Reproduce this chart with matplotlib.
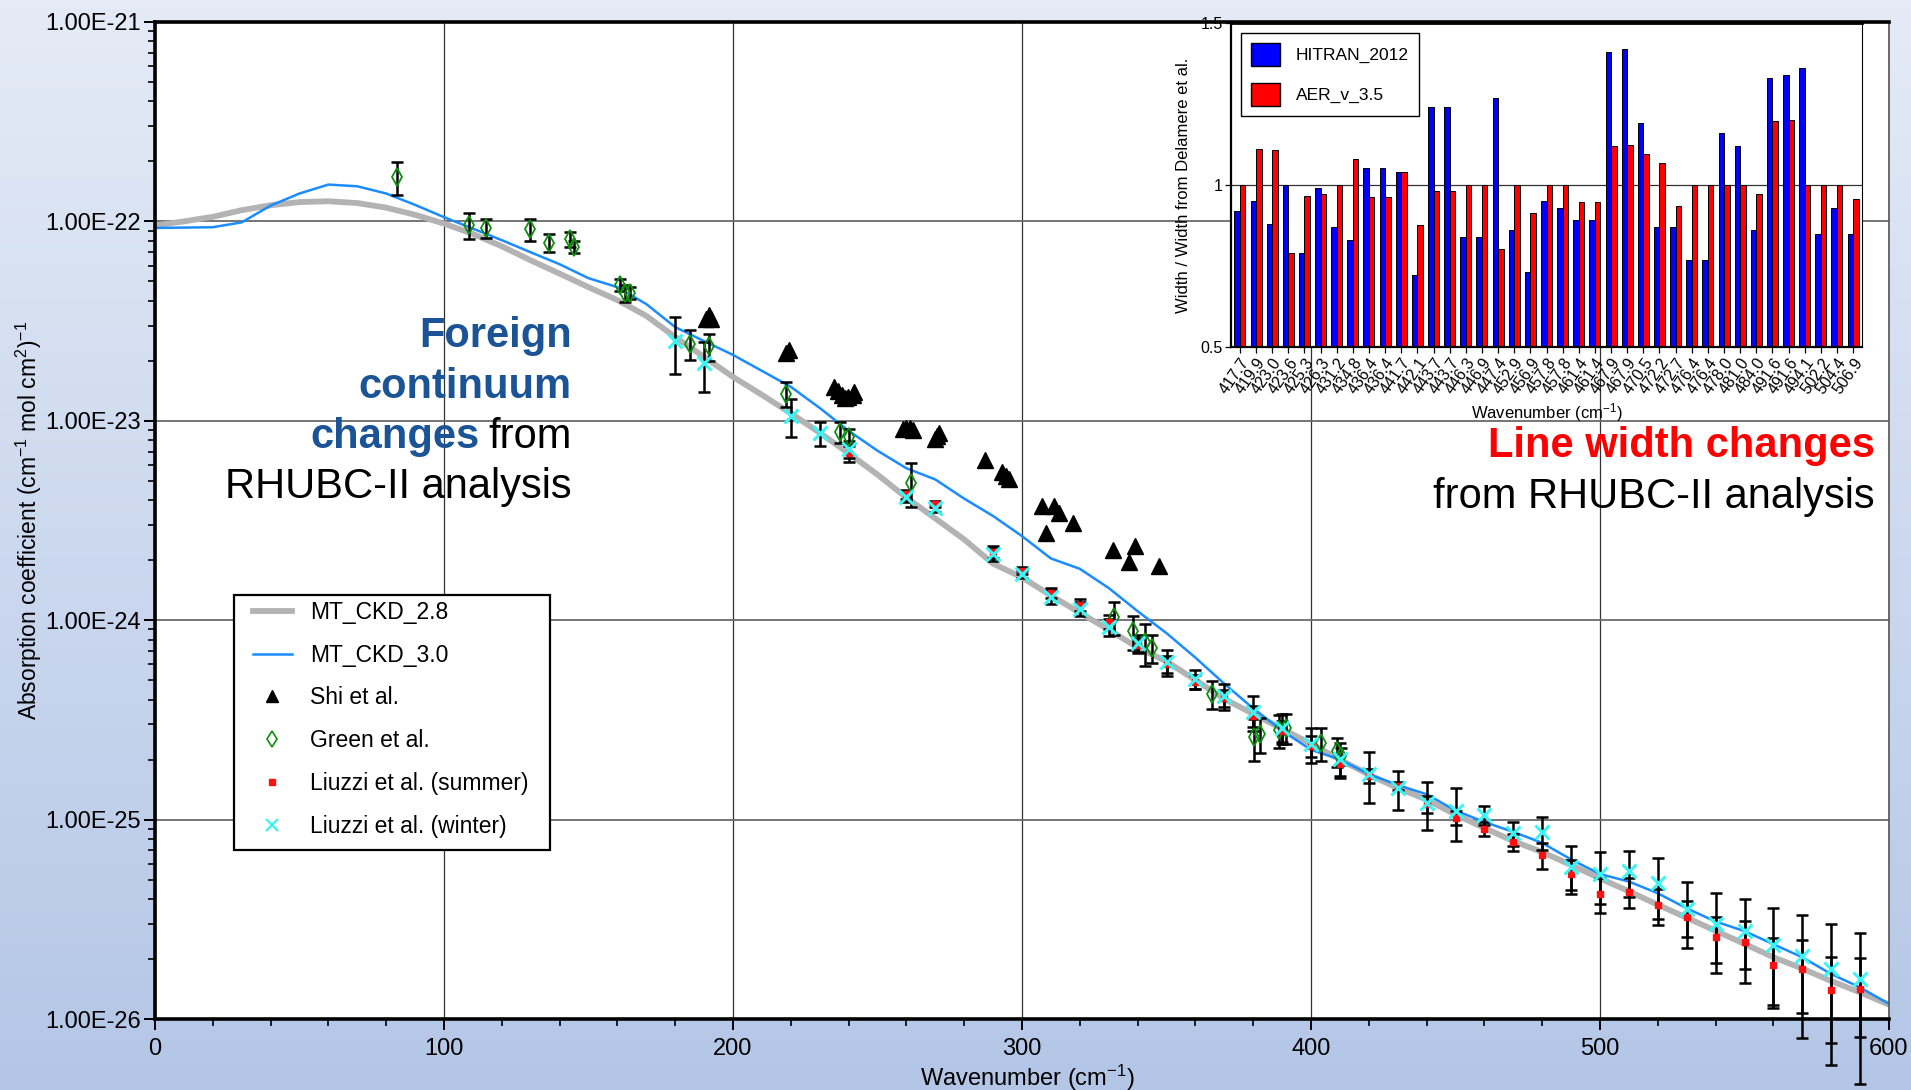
import numpy as np
import matplotlib
matplotlib.use("Agg")
import matplotlib.pyplot as plt
from matplotlib.lines import Line2D
from matplotlib.patches import Patch, Rectangle
from matplotlib.ticker import FixedLocator, FuncFormatter, LogLocator, NullFormatter, MultipleLocator

plt.rcParams['font.family'] = ['Liberation Sans', 'DejaVu Sans']
plt.rcParams['mathtext.default'] = 'regular'

# model continuum, every 10 cm-1 from 0 to 600
wn_model = np.arange(0, 601, 10)
mt_ckd_28 = [9.55e-23, 1.00e-22, 1.054e-22, 1.138e-22, 1.205e-22, 1.250e-22, 1.262e-22, 1.236e-22,
             1.172e-22, 1.079e-22, 9.75e-23, 8.65e-23, 7.50e-23, 6.38e-23, 5.47e-23, 4.68e-23,
             4.03e-23, 3.36e-23, 2.63e-23, 2.09e-23, 1.66e-23, 1.35e-23, 1.09e-23, 8.71e-24,
             6.87e-24, 5.37e-24, 4.12e-24, 3.24e-24, 2.54e-24, 1.92e-24, 1.64e-24, 1.33e-24,
             1.09e-24, 8.97e-25, 7.29e-25, 6.22e-25, 5.01e-25, 4.03e-25, 3.39e-25, 2.85e-25,
             2.40e-25, 2.00e-25, 1.68e-25, 1.44e-25, 1.26e-25, 1.06e-25, 9.08e-26, 7.80e-26,
             6.87e-26, 5.92e-26, 5.07e-26, 4.37e-26, 3.74e-26, 3.22e-26, 2.77e-26, 2.38e-26,
             2.04e-26, 1.79e-26, 1.55e-26, 1.36e-26, 1.18e-26]
mt_ckd_30 = [9.27e-23, 9.31e-23, 9.35e-23, 9.89e-23, 1.20e-22, 1.38e-22, 1.53e-22, 1.50e-22,
             1.38e-22, 1.21e-22, 1.05e-22, 9.20e-23, 8.05e-23, 7.00e-23, 6.10e-23, 5.19e-23,
             4.68e-23, 3.85e-23, 2.95e-23, 2.51e-23, 2.14e-23, 1.78e-23, 1.48e-23, 1.16e-23,
             8.91e-24, 7.08e-24, 5.78e-24, 5.08e-24, 4.07e-24, 3.33e-24, 2.64e-24, 2.04e-24,
             1.81e-24, 1.45e-24, 1.11e-24, 8.61e-25, 6.49e-25, 4.80e-25, 3.61e-25, 2.79e-25,
             2.24e-25, 2.00e-25, 1.69e-25, 1.49e-25, 1.34e-25, 1.11e-25, 9.73e-26, 8.67e-26,
             7.64e-26, 6.31e-26, 5.33e-26, 4.89e-26, 4.27e-26, 3.59e-26, 3.08e-26, 2.76e-26,
             2.37e-26, 2.04e-26, 1.68e-26, 1.44e-26, 1.19e-26]

# Shi et al.
shi_wn = [190.8, 191.6, 192.5, 218.5, 219.3, 234.8, 236.3, 237.6, 238.6, 239.8, 241.4, 242.0,
          258.8, 260.0, 261.3, 262.2, 269.8, 270.6, 271.2, 287.1, 293.0, 294.5, 295.5,
          306.9, 308.2, 310.9, 312.9, 317.5, 331.4, 337.1, 339.0, 347.3]
shi_k = [3.24e-23, 3.39e-23, 3.24e-23, 2.20e-23, 2.26e-23, 1.48e-23, 1.41e-23, 1.35e-23, 1.30e-23,
         1.32e-23, 1.35e-23, 1.40e-23, 9.12e-24, 9.23e-24, 9.23e-24, 9.02e-24, 8.07e-24, 8.41e-24,
         8.71e-24, 6.35e-24, 5.56e-24, 5.27e-24, 5.13e-24, 3.74e-24, 2.73e-24, 3.72e-24,
         3.44e-24, 3.08e-24, 2.26e-24, 1.95e-24, 2.36e-24, 1.87e-24]

# Green et al. (relative uncertainty)
green_wn = [83.8, 108.6, 114.6, 129.7, 136.4, 143.6, 145.1, 161.0, 162.8, 164.2, 185.2, 191.7,
            218.3, 237.1, 240.1, 261.5, 331.8, 338.3, 342.5, 344.9, 365.6, 380.3, 382.3,
            388.8, 391.2, 403.4, 409.0, 410.4]
green_k = [1.67e-22, 9.57e-23, 9.27e-23, 9.14e-23, 7.83e-23, 8.13e-23, 7.45e-23, 4.81e-23,
           4.37e-23, 4.37e-23, 2.44e-23, 2.36e-23, 1.37e-23, 8.79e-24, 8.26e-24, 4.90e-24,
           1.04e-24, 8.79e-25, 7.73e-25, 7.23e-25, 4.27e-25, 2.59e-25, 2.70e-25, 2.82e-25,
           2.88e-25, 2.42e-25, 2.20e-25, 2.08e-25]
green_rel = [0.19, 0.15, 0.11, 0.13, 0.10, 0.09, 0.07, 0.07, 0.10, 0.07, 0.17, 0.15, 0.14, 0.12,
             0.10, 0.25, 0.19, 0.19, 0.24, 0.16, 0.16, 0.24, 0.20, 0.19, 0.17, 0.19, 0.17, 0.10]

# Liuzzi et al. winter
winter_wn = [180, 190, 220, 230, 240, 260, 270, 290, 300, 310, 320, 330, 340, 350, 360, 370, 380,
             390, 400, 410, 420, 430, 440, 450, 460, 470, 480, 490, 500, 510, 520, 530, 540, 550,
             560, 570, 580, 590]
winter_k = [2.52e-23, 1.94e-23, 1.06e-23, 8.65e-24, 7.19e-24, 4.17e-24, 3.66e-24, 2.15e-24,
            1.70e-24, 1.31e-24, 1.14e-24, 9.27e-25, 7.66e-25, 6.17e-25, 5.07e-25, 4.17e-25,
            3.47e-25, 2.88e-25, 2.40e-25, 2.01e-25, 1.69e-25, 1.44e-25, 1.21e-25, 1.11e-25,
            1.06e-25, 8.55e-26, 8.65e-26, 5.78e-26, 5.31e-26, 5.50e-26, 4.79e-26, 3.56e-26,
            2.99e-26, 2.75e-26, 2.36e-26, 2.07e-26, 1.79e-26, 1.58e-26]
winter_rel = [0.32, 0.28, 0.22, 0.14, 0.10, 0.06, 0.05, 0.08, 0.04, 0.08, 0.08, 0.10, 0.10, 0.15,
              0.11, 0.15, 0.20, 0.17, 0.20, 0.20, 0.285, 0.22, 0.27, 0.30, 0.11, 0.14, 0.19,
              0.27, 0.29, 0.26, 0.34, 0.36, 0.43, 0.45, 0.52, 0.61, 0.67, 0.70]

# Liuzzi et al. summer
summer_wn = [240, 260, 270, 290, 300, 310, 320, 330, 340, 350, 360, 370, 380, 390, 400, 410, 420,
             430, 440, 450, 460, 470, 480, 490, 500, 510, 520, 530, 540, 550, 560, 570, 580, 590]
summer_k = [6.92e-24, 4.27e-24, 3.83e-24, 2.21e-24, 1.77e-24, 1.37e-24, 1.19e-24, 9.79e-25,
            7.50e-25, 6.03e-25, 4.90e-25, 4.07e-25, 3.32e-25, 2.79e-25, 2.34e-25, 1.89e-25,
            1.66e-25, 1.48e-25, 1.20e-25, 1.02e-25, 8.99e-26, 7.69e-26, 6.67e-26, 5.33e-26,
            4.24e-26, 4.35e-26, 3.72e-26, 3.24e-26, 2.58e-26, 2.43e-26, 1.87e-26, 1.78e-26,
            1.40e-26, 1.42e-26]
summer_rel = [0.10, 0.05, 0.04, 0.07, 0.04, 0.06, 0.07, 0.08, 0.09, 0.10, 0.08, 0.10, 0.12, 0.12,
              0.12, 0.12, 0.08, 0.045, 0.10, 0.08, 0.08, 0.10, 0.15, 0.17, 0.20, 0.17, 0.20,
              0.20, 0.26, 0.27, 0.37, 0.40, 0.46, 0.43]

# line width ratios for the inset
line_labels = ['417.7', '419.9', '423.0', '423.6', '425.3', '426.3', '431.2', '434.8', '436.4',
               '436.4', '441.7', '442.1', '443.7', '443.7', '446.3', '446.9', '447.4', '452.9',
               '456.9', '457.8', '457.8', '461.4', '461.4', '467.9', '467.9', '470.5', '472.2',
               '472.7', '476.4', '476.4', '478.0', '481.0', '484.0', '491.6', '491.6', '494.1',
               '502.2', '504.4', '506.9']
hitran_2012 = [0.921, 0.951, 0.880, 1.0, 0.789, 0.990, 0.871, 0.831, 1.051, 1.051, 1.041, 0.721,
               1.240, 1.240, 0.841, 0.841, 1.270, 0.861, 0.730, 0.951, 0.930, 0.891, 0.891,
               1.411, 1.421, 1.191, 0.871, 0.871, 0.770, 0.770, 1.160, 1.121, 0.861, 1.331,
               1.340, 1.361, 0.850, 0.930, 0.850]
aer_v35 = [1.0, 1.111, 1.108, 0.791, 0.967, 0.971, 1.0, 1.080, 0.962, 0.962, 1.039, 0.877, 0.980,
           0.980, 1.0, 1.0, 0.804, 1.0, 0.913, 1.0, 1.0, 0.946, 0.946, 1.119, 1.123, 1.095, 1.067,
           0.934, 1.0, 1.0, 1.0, 1.0, 0.971, 1.196, 1.202, 1.0, 1.0, 1.0, 0.958]

W, H = 1911, 1090
fig = plt.figure(figsize=(W / 100, H / 100), dpi=100)

# slide-style background
bg = fig.add_axes([0, 0, 1, 1], zorder=-5)
grad = np.linspace(0, 1, 256)[:, None]
top_c = np.array([0.898, 0.922, 0.965])
bot_c = np.array([0.705, 0.776, 0.905])
img = top_c[None, None, :] * (1 - grad[..., None]) + bot_c[None, None, :] * grad[..., None]
bg.imshow(np.repeat(img, 4, axis=1), aspect='auto', extent=[0, 1, 0, 1])
bg.axis('off')


def fx(px):
    return px / W


def fy(py):
    return 1 - py / H


ax = fig.add_axes([fx(155), fy(1019), fx(1889 - 155), (1019 - 22) / H])
ax.set_facecolor('white')
ax.set_yscale('log')
ax.set_xlim(0, 600)
ax.set_ylim(1e-26, 1e-21)
ax.xaxis.set_major_locator(MultipleLocator(100))
ax.xaxis.set_minor_locator(MultipleLocator(20))
ax.yaxis.set_major_locator(FixedLocator([1e-26, 1e-25, 1e-24, 1e-23, 1e-22, 1e-21]))
ax.yaxis.set_minor_locator(LogLocator(base=10, subs=np.arange(2, 10)))
ax.yaxis.set_minor_formatter(NullFormatter())
ax.yaxis.set_major_formatter(FuncFormatter(lambda v, p: f"{v:.2E}"))
ax.tick_params(which='major', direction='out', length=8, width=1.4, labelsize=17, pad=2)
ax.tick_params(which='minor', direction='out', length=5, width=1.2)
ax.tick_params(axis='x', which='major', pad=6)
ax.grid(True, which='major', axis='x', color='#333333', lw=0.9)
ax.grid(True, which='major', axis='y', color='#6a6a6a', lw=1.3)
ax.set_axisbelow(True)
for side in ['left', 'bottom', 'top']:
    ax.spines[side].set_linewidth(2.6)
ax.spines['right'].set_linewidth(1.2)
ax.spines['right'].set_color('#555555')

ax.set_xlabel('Wavenumber (cm$^{-1}$)', fontsize=17)
ax.xaxis.set_label_coords(0.503, -0.044)
ax.set_ylabel('Absorption coefficient (cm$^{-1}$ mol cm$^{2}$)$^{-1}$', fontsize=16.5)
ax.yaxis.set_label_coords(-0.064, 0.5)

ax.plot(wn_model, mt_ckd_28, color='#b3b3b3', lw=4.2, zorder=2, solid_capstyle='butt')
ax.plot(wn_model, mt_ckd_30, color='#1a8cff', lw=1.8, zorder=2.5)


def error_bars(wn, k, rel):
    k = np.asarray(k)
    eb = ax.errorbar(wn, k, yerr=np.asarray(rel) * k, fmt='none', ecolor='black',
                     elinewidth=1.8, capsize=4.5, capthick=1.8, zorder=3)
    for art in list(eb.lines[1]) + list(eb.lines[2]):
        art.set_clip_on(False)


error_bars(green_wn, green_k, green_rel)
error_bars(winter_wn, winter_k, winter_rel)
error_bars(summer_wn, summer_k, summer_rel)

ax.plot(shi_wn, shi_k, ls='none', marker='^', ms=11, color='black', zorder=4)
ax.plot(green_wn, green_k, ls='none', marker='d', ms=9, mfc='none', mec='#0f8f0f', mew=1.3, zorder=4)
ax.plot(summer_wn, summer_k, ls='none', marker='s', ms=4.5, color='#ff1010', zorder=4.2)
ax.plot(winter_wn, winter_k, ls='none', marker='x', ms=10, mew=2.2, color='#3cf4f4', zorder=4.4)

# legend: own frame, entries placed inside it
ax.add_patch(Rectangle((fx(234), fy(850)), fx(550 - 234), (850 - 595) / H,
                       transform=fig.transFigure, facecolor='white', edgecolor='black',
                       lw=1.6, zorder=5, clip_on=False))
handles = [
    Line2D([], [], color='#b3b3b3', lw=4.2),
    Line2D([], [], color='#1a8cff', lw=1.8),
    Line2D([], [], ls='none', marker='^', ms=8, color='black'),
    Line2D([], [], ls='none', marker='d', ms=8, mfc='none', mec='#0f8f0f', mew=1.2),
    Line2D([], [], ls='none', marker='s', ms=4, color='#ff1010'),
    Line2D([], [], ls='none', marker='x', ms=8, mew=1.6, color='#3cf4f4'),
]
labels = ['MT_CKD_2.8', 'MT_CKD_3.0', 'Shi et al.', 'Green et al.',
          'Liuzzi et al. (summer)', 'Liuzzi et al. (winter)']
leg = ax.legend(handles, labels, loc='upper left', bbox_to_anchor=(fx(253), fy(601)),
                bbox_transform=fig.transFigure, borderaxespad=0, borderpad=0,
                fontsize=16.5, frameon=False, handlelength=1.7, handletextpad=0.8,
                labelspacing=0.86)
leg.set_zorder(6)

# annotation blocks
blue_txt = '#1b5496'
big = 30
fig.text(fx(572), fy(347), 'Foreign', ha='right', va='baseline', fontsize=big,
         fontweight='bold', color=blue_txt)
fig.text(fx(572), fy(398), 'continuum', ha='right', va='baseline', fontsize=big,
         fontweight='bold', color=blue_txt)
t_from = fig.text(fx(572), fy(448), 'from', ha='right', va='baseline', fontsize=big, color='black')
fig.text(fx(572), fy(448), 'changes', ha='right', va='baseline', fontsize=big,
         fontweight='bold', color=blue_txt)
fig.text(fx(572), fy(498), 'RHUBC-II analysis', ha='right', va='baseline', fontsize=big,
         color='black')
fig.text(fx(1875), fy(457), 'Line width changes', ha='right', va='baseline', fontsize=big,
         fontweight='bold', color='#ff0000')
fig.text(fx(1875), fy(508), 'from RHUBC-II analysis', ha='right', va='baseline', fontsize=big,
         color='black')

# push "changes" left of "from"
fig.canvas.draw()
rend = fig.canvas.get_renderer()
from_box = t_from.get_window_extent(rend)
for t in fig.texts:
    if t.get_text() == 'changes':
        t.set_x((from_box.x0 - 9) / W)

# inset: line width ratios
ax2 = fig.add_axes([fx(1231), fy(347), fx(1862 - 1231), (347 - 23) / H])
ax2.set_facecolor('white')
idx = np.arange(len(line_labels))
bw = 0.34
ax2.bar(idx - bw / 2, hitran_2012, bw, color='#0000ff', edgecolor='black', lw=0.7, zorder=2)
ax2.bar(idx + bw / 2, aer_v35, bw, color='#ff0000', edgecolor='black', lw=0.7, zorder=2)
ax2.axhline(1.0, color='#333333', lw=0.9, zorder=1)
ax2.set_xlim(-0.55, len(line_labels) - 0.45)
ax2.set_ylim(0.5, 1.5)
ax2.set_yticks([0.5, 1.0, 1.5])
ax2.set_yticklabels(['0.5', '1', '1.5'])
ax2.set_xticks(idx)
ax2.set_xticklabels(line_labels, rotation=55, ha='right', va='top', rotation_mode='anchor')
ax2.tick_params(axis='both', labelsize=11.5, length=4, width=0.9, pad=2)
ax2.set_xlabel('Wavenumber (cm$^{-1}$)', fontsize=12, labelpad=3)
ax2.set_ylabel('Width / Width from Delamere et al.', fontsize=12, labelpad=7)
for side in ['left', 'bottom']:
    ax2.spines[side].set_linewidth(1.6)
ax2.spines['top'].set_linewidth(2.0)
ax2.spines['right'].set_linewidth(0.8)
leg2 = ax2.legend([Patch(facecolor='#0000ff', edgecolor='black'),
                   Patch(facecolor='#ff0000', edgecolor='black')],
                  ['HITRAN_2012', 'AER_v_3.5'], loc='upper left', fontsize=12.5,
                  fancybox=False, framealpha=1, edgecolor='black',
                  handlelength=1.7, handleheight=1.7, labelspacing=0.95,
                  handletextpad=0.9, borderpad=0.55, borderaxespad=0.6)
leg2.get_frame().set_linewidth(1.0)

fig.savefig('out.png', dpi=100)
